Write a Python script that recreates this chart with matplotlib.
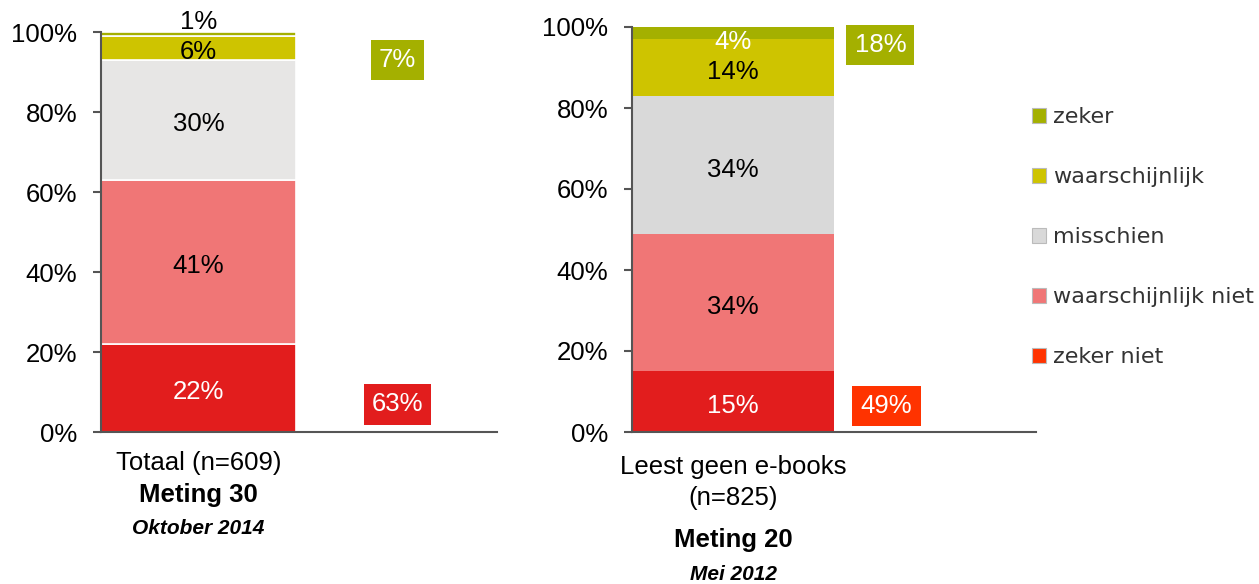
import matplotlib
matplotlib.use('Agg')
import matplotlib.pyplot as plt
from matplotlib.patches import Patch

plt.rcParams['font.family'] = ['Liberation Sans', 'DejaVu Sans']

# answer categories, bottom to top
categories = ['zeker niet', 'waarschijnlijk niet', 'misschien', 'waarschijnlijk', 'zeker']
left_values = [22, 41, 30, 6, 1]
right_values = [15, 34, 34, 14, 4]
left_totals = [63, 7]     # niet (zeker + waarschijnlijk), wel (zeker + waarschijnlijk)
right_totals = [49, 18]

left_cat = ['Totaal (n=609)', 'Meting 30', 'Oktober 2014']
right_cat = ['Leest geen e-books', '(n=825)', 'Meting 20', 'Mei 2012']

left_colors = ['#E21D1D', '#F07676', '#E7E6E5', '#CEC400', '#A4B000']
right_colors = ['#E21D1D', '#F07676', '#D9D9D9', '#CEC400', '#A4B000']
legend_colors = ['#A4B000', '#CEC400', '#D9D9D9', '#F07676', '#FF3300']
left_txt = ['white', 'black', 'black', 'black', 'black']
right_txt = ['white', 'black', 'black', 'black', 'white']

FS = 18.5
W, H = 1259, 584
fig = plt.figure(figsize=(W / 100, H / 100), dpi=100)

ax1 = fig.add_axes([101 / W, 1 - 432 / H, 396 / W, 400 / H])
ax2 = fig.add_axes([632 / W, 1 - 432 / H, 404 / W, 405 / H])


def style(ax, xmax):
    ax.set_xlim(0, xmax)
    ax.set_ylim(0, 100)
    ax.set_yticks([0, 20, 40, 60, 80, 100])
    ax.set_yticklabels(['0%', '20%', '40%', '60%', '80%', '100%'])
    ax.set_xticks([])
    for s in ['top', 'right']:
        ax.spines[s].set_visible(False)
    for s in ['left', 'bottom']:
        ax.spines[s].set_color('#555555')
        ax.spines[s].set_linewidth(1.5)
    ax.tick_params(axis='y', length=6, width=1.5, color='#555555', labelsize=FS, pad=11)


style(ax1, 2.03)
style(ax2, 2.0)

# left stacked bar
bottom = 0
for i, v in enumerate(left_values):
    ax1.bar(0, v, width=1, bottom=bottom, align='edge', color=left_colors[i],
            edgecolor='white', linewidth=1.2)
    if v >= 5:
        ax1.text(0.5, bottom + v / 2 - 1.1, f'{v}%', ha='center', va='center',
                 fontsize=FS, color=left_txt[i])
    else:
        ax1.text(0.5, 102.6, f'{v}%', ha='center', va='center', fontsize=FS,
                 color=left_txt[i], clip_on=False)
    bottom += v

# right stacked bar
bottom = 0
for i, v in enumerate(right_values):
    ax2.bar(0, v, width=1, bottom=bottom, align='edge', color=right_colors[i],
            linewidth=0)
    ax2.text(0.5, min(bottom + v / 2, 97.5) - 1.2, f'{v}%', ha='center', va='center',
             fontsize=FS, color=right_txt[i])
    bottom += v

# totals boxes
box = 'square,pad=0.32'
ax1.text(1.52, 6.9, f'{left_totals[0]}%', ha='center', va='center', fontsize=FS,
         color='white', bbox=dict(boxstyle=box, fc='#E21D1D', ec='none'))
ax1.text(1.52, 93, f'{left_totals[1]}%', ha='center', va='center', fontsize=FS,
         color='white', bbox=dict(boxstyle=box, fc='#A4B000', ec='none'))
ax2.text(1.26, 6.4, f'{right_totals[0]}%', ha='center', va='center', fontsize=FS,
         color='white', bbox=dict(boxstyle=box, fc='#FF3300', ec='none'))
ax2.text(1.23, 95.5, f'{right_totals[1]}%', ha='center', va='center', fontsize=FS,
         color='white', bbox=dict(boxstyle=box, fc='#A4B000', ec='none'))

# category labels
t1 = ax1.get_xaxis_transform()
ax1.text(0.5, -0.078, left_cat[0], transform=t1, ha='center', va='center', fontsize=FS)
ax1.text(0.5, -0.157, left_cat[1], transform=t1, ha='center', va='center', fontsize=FS,
         fontweight='bold')
ax1.text(0.5, -0.2425, left_cat[2], transform=t1, ha='center', va='center', fontsize=15,
         fontweight='bold', fontstyle='italic')

t2 = ax2.get_xaxis_transform()
ax2.text(0.5, -0.086, right_cat[0], transform=t2, ha='center', va='center', fontsize=FS)
ax2.text(0.5, -0.163, right_cat[1], transform=t2, ha='center', va='center', fontsize=FS)
ax2.text(0.5, -0.267, right_cat[2], transform=t2, ha='center', va='center', fontsize=FS,
         fontweight='bold')
ax2.text(0.5, -0.353, right_cat[3], transform=t2, ha='center', va='center', fontsize=15,
         fontweight='bold', fontstyle='italic')

# legend, top to bottom
handles = [Patch(facecolor=c, edgecolor='#BBBBBB', linewidth=0.8) for c in legend_colors]
labels = categories[::-1]
fig.legend(handles, labels, loc='upper left', bbox_to_anchor=(1012 / W, 1 - 87 / H),
           frameon=False, labelcolor='#333333', prop={'family': 'DejaVu Sans', 'size': 16},
           handlelength=0.65, handleheight=0.65, handletextpad=0.3, labelspacing=1.8)

fig.savefig('out.png', dpi=100)
